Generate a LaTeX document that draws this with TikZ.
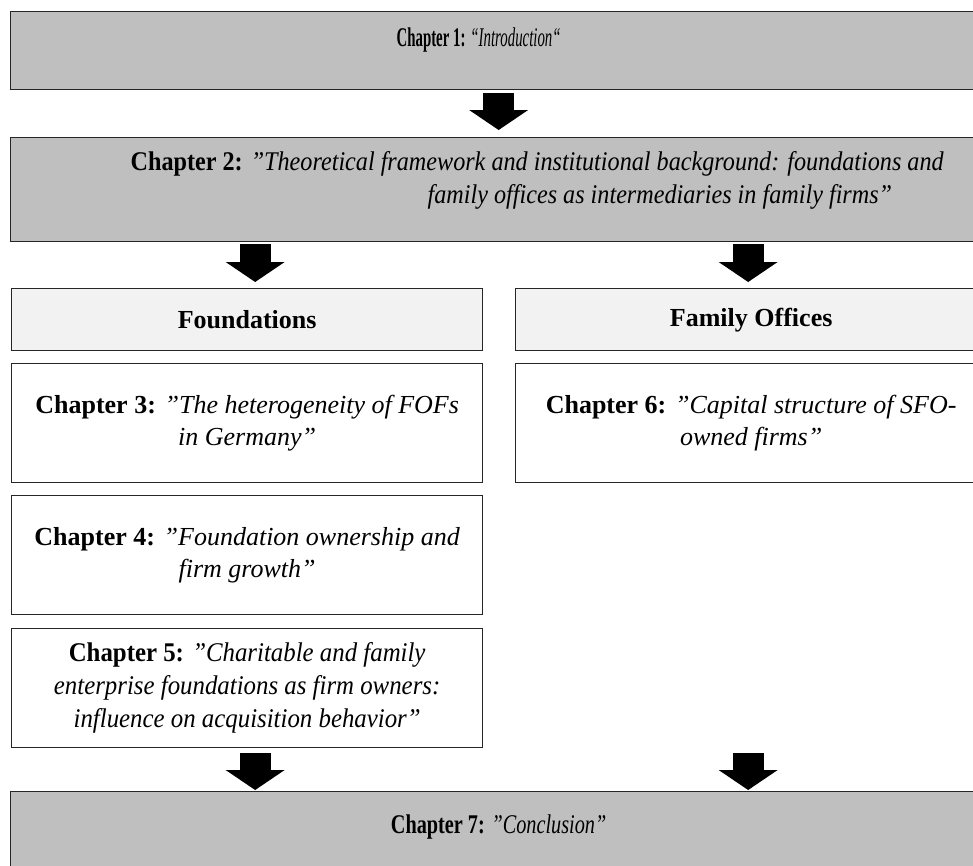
\documentclass[tikz,border=0pt]{standalone}
\usepackage{fontspec}
\setmainfont{Liberation Serif}
\usetikzlibrary{arrows.meta,calc}
\definecolor{ChapClr}{HTML}{BFBFBF}
\definecolor{PartClr}{HTML}{F2F2F2}
\definecolor{EdgeClr}{HTML}{262626}
\newcommand{\narrowtext}[1]{\fontsize{27}{33}\selectfont\addfontfeature{FakeStretch=#1}}

\begin{document}
\begin{tikzpicture}[x=1pt,y=-1pt,
  box/.style={draw=EdgeClr,line width=1.3pt,anchor=north west,align=center,inner sep=0pt,
    font=\fontsize{26}{32}\selectfont},
  chapbox/.style={box,fill=ChapClr,minimum width=976pt},
  partbox/.style={box,fill=PartClr,minimum width=471pt,minimum height=62pt},
  textbox/.style={box,fill=white,minimum width=471pt,minimum height=119pt},
  bigarrow/.style={line width=31pt,-{Triangle[width=59pt,length=20pt,line width=0pt]}}]
\useasboundingbox (0,0) rectangle (973,865);
\clip (0,0) rectangle (973,865);

\node[chapbox,minimum height=78pt,font=\narrowtext{0.55}] (ch1) at (10,11)
  {\raisebox{11pt}[\height][\depth]{\hspace*{-40pt}\textbf{Chapter 1:} \textit{“Introduction“}}};
\node[chapbox,minimum height=104pt,font=\narrowtext{0.895}] (ch2) at (10,137)
  {\raisebox{9pt}[\height][\depth]{\makebox[976pt][l]{\hspace*{120pt}\begin{tabular}{@{}l@{}}
   \textbf{Chapter 2:} \textit{”Theoretical framework and institutional background: foundations and}\\
   \hspace*{297pt}\textit{family offices as intermediaries in family firms”}\end{tabular}}}};

\node[partbox] (fnd) at (11,288) {\textbf{Foundations}};
\node[partbox] (fo) at (515,288) {\textbf{Family Offices}};

\node[textbox] (ch3) at (11,363) {\textbf{Chapter 3:} \textit{”The heterogeneity of FOFs}\\\textit{in Germany”}};
\node[textbox] (ch6) at (515,363) {\textbf{Chapter 6:} \textit{”Capital structure of SFO-}\\\textit{owned firms”}};
\node[textbox] (ch4) at (11,495) {\textbf{Chapter 4:} \textit{”Foundation ownership and}\\\textit{firm growth”}};
\node[textbox,font=\narrowtext{0.92}] (ch5) at (11,628)
  {\textbf{Chapter 5:} \textit{”Charitable and family}\\\textit{enterprise foundations as firm owners:}\\\textit{influence on acquisition behavior”}};

\node[chapbox,minimum height=80pt,font=\narrowtext{0.75}] (ch7) at (10,791)
  {\raisebox{5pt}[\height][\depth]{\textbf{Chapter 7:} \textit{”Conclusion”}}};

% arrows between the levels
\draw[bigarrow,shorten <=3pt,shorten >=7pt] (ch1.south) -- (ch2.north);
\draw[bigarrow,shorten <=2pt,shorten >=6pt] ([xshift=8pt]fnd.north |- ch2.south) -- ([xshift=8pt]fnd.north);
\draw[bigarrow,shorten <=2pt,shorten >=6pt] ([xshift=-3pt]fo.north |- ch2.south) -- ([xshift=-3pt]fo.north);
\draw[bigarrow,shorten <=5pt,shorten >=1pt] ([xshift=8pt]ch5.south) -- ([xshift=8pt]ch5.south |- ch7.north);
\draw[bigarrow,shorten <=5pt,shorten >=1pt] ([xshift=-3pt]ch6.south |- ch5.south) -- ([xshift=-3pt]ch6.south |- ch7.north);
\end{tikzpicture}
\end{document}
